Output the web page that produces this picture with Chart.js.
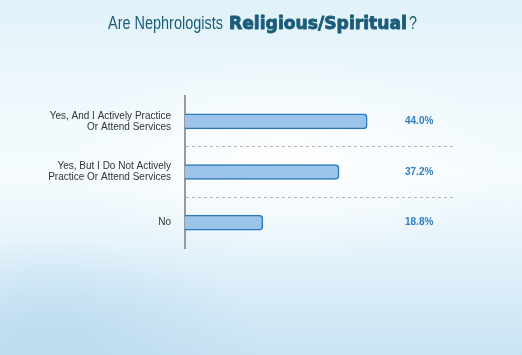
<!DOCTYPE html>
<html>
<head>
<meta charset="utf-8">
<script src="https://cdn.jsdelivr.net/npm/chart.js@4"></script>
<style>
  html, body { margin: 0; padding: 0; }
  body {
    width: 522px; height: 355px; overflow: hidden;
    background:
      radial-gradient(ellipse 60% 40% at 55% 45%, rgba(255,255,255,0.85), rgba(255,255,255,0) 70%),
      radial-gradient(ellipse 50% 35% at 10% 95%, rgba(180,215,238,0.7), rgba(180,215,238,0) 80%),
      linear-gradient(180deg, #e0f1f9 0%, #eef8fc 25%, #f5fbfe 50%, #e3f2fa 72%, #c9e3f3 100%);
  }
  #wrap { position: relative; width: 522px; height: 355px; }
  canvas { display: block; }
</style>
</head>
<body>
<div id="wrap"><canvas id="c" width="522" height="355"></canvas></div>
<script>
// ---- data ----
const categories = [
  ["Yes, And I Actively Practice", "Or Attend Services"],
  ["Yes, But I Do Not Actively", "Practice Or Attend Services"],
  ["No"]
];
const values = [44.0, 37.2, 18.8];
const valueLabels = ["44.0%", "37.2%", "18.8%"];
const titleParts = ["Are Nephrologists ", "Religious/Spiritual", "?"];

// ---- plugins ----
const titlePlugin = {
  id: 'mixedTitle',
  afterDraw(chart) {
    const ctx = chart.ctx;
    ctx.save();
    ctx.fillStyle = '#1b5c79';
    ctx.strokeStyle = '#1b5c79';
    ctx.textBaseline = 'alphabetic';
    ctx.textAlign = 'left';
    const segs = [
      { t: titleParts[0].trim(), font: '18px "Liberation Sans", Arial, sans-serif', x: 108, w: 115, stroke: 0 },
      { t: titleParts[1], font: 'bold 18px "DejaVu Sans", Arial, sans-serif', x: 229, w: 178, stroke: 0.9 },
      { t: titleParts[2], font: '18px "Liberation Sans", Arial, sans-serif', x: 409, w: 8, stroke: 0 }
    ];
    segs.forEach(s => {
      ctx.font = s.font;
      const m = ctx.measureText(s.t).width;
      ctx.save();
      ctx.translate(s.x, 29);
      ctx.scale(s.w / m, 1);
      ctx.fillText(s.t, 0, 0);
      if (s.stroke) { ctx.lineWidth = s.stroke; ctx.lineJoin = 'round'; ctx.strokeText(s.t, 0, 0); }
      ctx.restore();
    });
    ctx.restore();
  }
};

const valuePlugin = {
  id: 'valueLabels',
  afterDatasetsDraw(chart) {
    const ctx = chart.ctx;
    const meta = chart.getDatasetMeta(0);
    ctx.save();
    ctx.font = 'bold 10px "Liberation Sans", Arial, sans-serif';
    ctx.fillStyle = '#2f7fc1';
    ctx.textAlign = 'left';
    ctx.textBaseline = 'middle';
    meta.data.forEach((bar, i) => {
      ctx.fillText(valueLabels[i], 405, bar.y);
    });
    ctx.restore();
  }
};

new Chart(document.getElementById('c'), {
  type: 'bar',
  data: {
    labels: categories,
    datasets: [{
      data: values,
      backgroundColor: '#9cc3ea',
      borderColor: '#2a79bd',
      borderWidth: 1.5,
      borderSkipped: 'start',
      borderRadius: { topRight: 4, bottomRight: 4, topLeft: 0, bottomLeft: 0 },
      barThickness: 15
    }]
  },
  options: {
    indexAxis: 'y',
    responsive: false,
    animation: false,
    layout: { padding: { top: 96, bottom: 107, right: 67, left: 0 } },
    plugins: { legend: { display: false }, tooltip: { enabled: false }, title: { display: false } },
    scales: {
      x: { display: false, min: 0, max: 65.2 },
      y: {
        afterFit(scale) { scale.width = 185; },
        border: { display: true, color: '#9a9a9a', width: 2, dash: [3, 3] },
        grid: {
          drawTicks: false,
          lineWidth: 1,
          color: c => (c.index === 1 || c.index === 2) ? '#b4b4b4' : 'rgba(0,0,0,0)'
        },
        ticks: {
          padding: 14,
          color: '#333333',
          font: { family: '"Liberation Sans", Arial, sans-serif', size: 10, lineHeight: 1.1 }
        }
      }
    }
  },
  plugins: [titlePlugin, valuePlugin]
});
</script>
</body>
</html>
